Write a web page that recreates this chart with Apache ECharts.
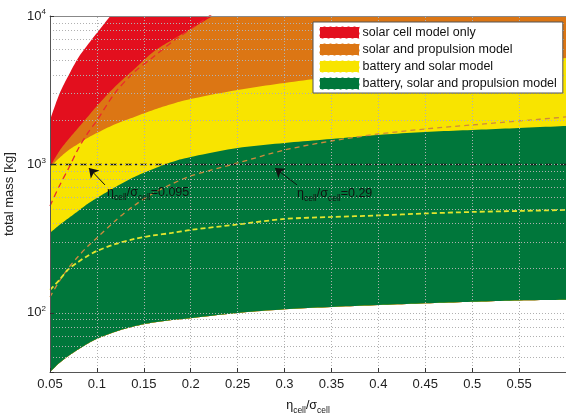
<!DOCTYPE html>
<html><head><meta charset="utf-8">
<script src="https://cdn.jsdelivr.net/npm/echarts@6/dist/echarts.min.js"></script>
<style>html,body{margin:0;padding:0;background:#fff}#c{width:566px;height:414px}</style>
</head><body><div id="c"></div>
<script>
const xVals = [0.05,0.06,0.07,0.08,0.09,0.1,0.12,0.14,0.16,0.18,0.2,0.25,0.3,0.35,0.4,0.45,0.5,0.55,0.6];
const redTop = [1994,2983,4006,5214,6379,7686,10975,14500,18500,23000,28000,40000,55000,70000,85000,100000,115000,130000,150000];
const orangeTop = [965,1233,1485,1761,2089,2477,3378,4396,5723,6893,8174,12480,18000,25000,32000,40000,48000,56000,65000];
const yellowTop = [962,1106,1252,1374,1508,1630,1874,2089,2328,2555,2761,3176,3539,3884,4196,4465,4752,4977,5214];
const greenTop = [346,391,436,486,542,595,706,824,933,1039,1123,1291,1396,1485,1580,1655,1707,1761,1816];
const lowerBound = [40,46,51.5,56.7,62,66.9,74.8,81.3,86.2,89.5,92.2,100,105.7,109.7,113,116,118.8,121.3,122.6];
const redDashed = [525,717,947,1272,1618,1979,3077,4196,5296,6683,8174,13430,20000,28000,36000,45000,55000,65000,75000];
const orangeDashed = [128,164,202,240,280,320,420,530,640,740,837,1023,1252,1439,1604,1734,1845,1963,2089];
const yellowDashed = [142.9,166.8,197.8,220.4,242,261.5,291.5,315,332.6,345.6,362.2,394.5,429.5,443,453.6,467.7,478.7,486.3,493.9];
const limitX = [0.05, 0.6];
const limitY = [1000, 1000];
const xGrid = [0.1,0.15,0.2,0.25,0.3,0.35,0.4,0.45,0.5,0.55];
const yGrid = [50,60,70,80,90,100,200,300,400,500,600,700,800,900,1000,2000,3000,4000,5000,6000,7000,8000,9000];
const names = ['solar cell model only','solar and propulsion model','battery and solar model','battery, solar and propulsion model'];
const colors = ['#e30f1e','#dc7614','#f8e400','#00773b'];
const annX = [0.1108, 0.3133];
const annY = [643, 633];
const annText = ['0.095', '0.29'];
const arrowTail = [[0.1086, 728], [0.3133, 728]];
const arrowTip = [[0.0915, 945], [0.2898, 945]];

const FONT = 'Liberation Sans, Arial, sans-serif';
function pairs(arr){ return xVals.map((x,i)=>[x, arr[i]]); }
function densify(pts){
  const out = [];
  const n = pts.length;
  for (let i = 0; i < n - 1; i++) {
    const p0 = pts[Math.max(i-1,0)], p1 = pts[i], p2 = pts[i+1], p3 = pts[Math.min(i+2,n-1)];
    const steps = 10;
    for (let k = 0; k < steps; k++) {
      const t = k/steps, t2 = t*t, t3 = t2*t;
      const f = (a,b,c,d)=>0.5*((2*b)+(-a+c)*t+(2*a-5*b+4*c-d)*t2+(-a+3*b-3*c+d)*t3);
      out.push([f(p0[0],p1[0],p2[0],p3[0]), f(p0[1],p1[1],p2[1],p3[1])]);
    }
  }
  out.push(pts[n-1]);
  return out;
}
function band(name, top, color){
  return {
    name: name, type:'custom', coordinateSystem:'cartesian2d', clip:true, z:2, silent:true,
    itemStyle:{color:color},
    data:[[xVals[0], lowerBound[0]]],
    renderItem:function(params, api){
      const up = densify(xVals.map((x,i)=>api.coord([x, top[i]])));
      const lo = densify(xVals.map((x,i)=>api.coord([x, lowerBound[i]]))).reverse();
      return {type:'polygon', shape:{points: up.concat(lo)}, style:{fill:color, stroke:null}};
    }
  };
}
const rich = {
  n:{fontSize:12.5, lineHeight:18, fontFamily:FONT, color:'#111'},
  s:{fontSize:8.5, lineHeight:9, verticalAlign:'bottom', fontFamily:FONT, color:'#111'}
};
const series = [
  {type:'line', data:[[0.05,1000]], symbol:'none', lineStyle:{opacity:0}, z:1, silent:true,
   markLine:{silent:true, symbol:'none', animation:false, label:{show:false},
     lineStyle:{color:'#b0b0b0', width:1, type:[1,2]},
     data:[...xGrid.map(v=>({xAxis:v})), ...yGrid.map(v=>({yAxis:v}))]}},
  band(names[0], redTop, colors[0]),
  band(names[1], orangeTop, colors[1]),
  band(names[2], yellowTop, colors[2]),
  band(names[3], greenTop, colors[3]),
  {type:'line', data:pairs(redDashed), smooth:0.3, symbol:'none', z:3, silent:true,
   lineStyle:{color:'#ea2a2c', width:1.3, type:[6,4]}},
  {type:'line', data:pairs(orangeDashed), smooth:0.3, symbol:'none', z:3, silent:true,
   lineStyle:{color:'#cf8a3c', width:1.3, type:[5,4]}},
  {type:'line', data:pairs(yellowDashed), smooth:0.3, symbol:'none', z:3, silent:true,
   lineStyle:{color:'#e2e52e', width:1.8, type:[5,3]}},
  {type:'line', data:limitX.map((x,i)=>[x, limitY[i]]), symbol:'none', z:4, silent:true,
   lineStyle:{color:'#1a1a1a', width:1.5, type:[7,3,2,3]},
   markLine:{silent:true, animation:false, symbol:['none','arrow'], symbolSize:9, label:{show:false},
     lineStyle:{color:'#111', width:1, type:'solid'},
     data: arrowTail.map((t,i)=>[{coord:t},{coord:arrowTip[i]}])},
   markPoint:{silent:true, animation:false, symbol:'circle', symbolSize:0,
     data: annX.map((x,i)=>({coord:[x, annY[i]], name:annText[i],
       label:{show:true, position:'right', distance:0,
         formatter:'{n|η}{s|cell}{n|/σ}{s|cell}{n|='+annText[i]+'}', rich:rich}}))}}
];

const chart = echarts.init(document.getElementById('c'), null, {renderer:'canvas'});
chart.setOption({
  animation:false,
  backgroundColor:'#fff',
  grid:{left:50, right:0, top:16, bottom:42, containLabel:false, outerBoundsMode:'none'},
  legend:{data:names, orient:'vertical', left:313, top:22, icon:'rect', itemWidth:40, itemHeight:12, itemGap:4,
    padding:[4,6,3,6], backgroundColor:'#fff', borderColor:'#555', borderWidth:1, z:10,
    selectedMode:false,
    itemStyle:{borderColor:'#fff', borderWidth:1, borderType:'dashed'},
    textStyle:{fontSize:12.5, fontFamily:FONT, color:'#111', padding:[0,0,0,-2]}},
  xAxis:[{type:'value', min:0.05, max:0.6, interval:0.05, z:5,
    name:'{n|η}{s|cell}{n|/σ}{s|cell}', nameLocation:'middle', nameGap:25,
    nameTextStyle:{rich:rich},
    axisLine:{show:true, lineStyle:{color:'#555'}},
    axisTick:{show:true, inside:true, length:4, lineStyle:{color:'#333'}},
    axisLabel:{showMaxLabel:false, fontSize:13, fontFamily:FONT, color:'#222', margin:6},
    splitLine:{show:false}},
   {type:'value', position:'top', min:0.05, max:0.6, interval:0.05, z:5,
    axisLine:{show:true, lineStyle:{color:'#888'}}, axisTick:{show:false}, axisLabel:{show:false}, splitLine:{show:false}}],
  yAxis:{type:'log', logBase:10, min:40, max:10000, z:5,
    name:'total mass [kg]', nameLocation:'middle', nameGap:33,
    nameTextStyle:{fontSize:13, fontFamily:FONT, color:'#222'},
    axisLine:{show:true, lineStyle:{color:'#555'}},
    axisTick:{show:true, inside:true, length:4, lineStyle:{color:'#333'}},
    axisLabel:{margin:4, fontFamily:FONT, color:'#222',
      formatter:function(v){ const l=Math.log10(v); if(Math.abs(l-Math.round(l))<1e-6) return '{b|10}{sup|'+Math.round(l)+'}'; return ''; },
      rich:{b:{fontSize:13, lineHeight:16, fontFamily:FONT, color:'#222'}, sup:{fontSize:8, lineHeight:8, verticalAlign:'top', fontFamily:FONT, color:'#222'}}},
    splitLine:{show:false}},
  series:series
});
</script></body></html>
